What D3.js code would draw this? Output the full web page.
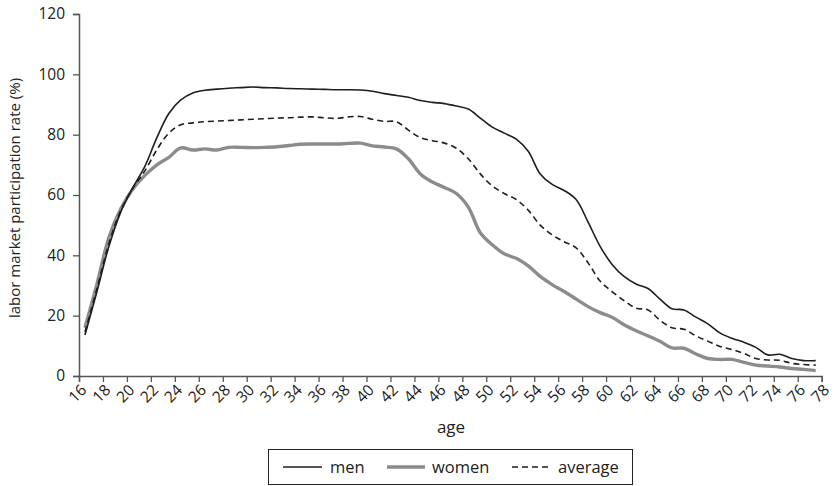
<!DOCTYPE html>
<html>
<head>
<meta charset="utf-8">
<script src="https://cdn.jsdelivr.net/npm/d3@7"></script>
<style>
  html, body { margin: 0; padding: 0; background: #fff; }
  svg { display: block; font-family: "Open Sans", "Noto Sans", sans-serif; }
</style>
</head>
<body>
<svg id="chart" width="836" height="486"></svg>
<script>
// Labor market participation rate by single year of age
const ages = d3.range(16, 78); // 16 .. 77

const men = [
  13.6, 28, 43, 54.5, 62.5, 69.5, 79, 87, 91.5, 93.8,
  94.7, 95.1, 95.4, 95.6, 95.8, 95.6, 95.5, 95.3, 95.2, 95.1,
  95.0, 94.9, 94.9, 94.8, 94.4, 93.6, 93.0, 92.4, 91.3, 90.7,
  90.3, 89.5, 88.5, 85.5, 82.5, 80.5, 78.5, 74.5, 67, 63.5,
  61.5, 58.5, 51, 43, 37, 33, 30.5, 29, 25.5, 22.3,
  21.9, 19.5, 17.3, 14.3, 12.5, 11.2, 9.5, 7, 7.2, 5.8,
  5.1, 5.1
];

const women = [
  16, 30.5, 46, 55.5, 62, 66.5, 70, 72.5, 75.6, 74.9,
  75.3, 74.9, 75.8, 75.8, 75.7, 75.8, 76, 76.4, 76.8, 76.9,
  76.9, 76.9, 77.1, 77.2, 76.3, 75.9, 75.3, 72, 67, 64.3,
  62.5, 60.5, 56, 47.5, 43.5, 40.5, 39, 36.5, 33, 30.3,
  28, 25.5, 23, 21, 19.5, 17, 15, 13.3, 11.5, 9.3,
  9.2, 7.3, 5.8, 5.5, 5.5, 4.5, 3.6, 3.3, 3, 2.5,
  2.2, 1.8
];

const average = [
  14.6, 29, 44, 55, 62.3, 68, 75, 80.5, 83.3, 83.9,
  84.3, 84.5, 84.7, 84.9, 85.1, 85.3, 85.5, 85.6, 85.8, 85.9,
  85.6, 85.4, 85.9, 86, 85.1, 84.4, 84.3, 81.5, 79, 78,
  77.2, 75.5, 72, 67, 63, 60.5, 58.5, 55, 50, 46.8,
  44.5, 42.5, 37.5, 31.5, 28, 25, 22.5, 21.9, 18.5, 16,
  15.5, 13.3, 11.5, 9.8, 8.8, 7.5, 5.8, 5.3, 5.2, 4.2,
  3.8, 3.6
];

const xTicks = d3.range(16, 80, 2);       // 16, 18, ... 78
const yTicks = [0, 20, 40, 60, 80, 100, 120];

const seriesNames = ["men", "women", "average"];
const seriesValues = [men, women, average];
const seriesStyle = {
  men:     { stroke: "#1e1e1e", width: 1.6, dash: null },
  women:   { stroke: "#8c8c8c", width: 3.4, dash: null },
  average: { stroke: "#1e1e1e", width: 1.6, dash: "6,4" }
};

const svg = d3.select("#chart");

const x = d3.scaleLinear().domain([16, 78]).range([79, 821.7]);
const y = d3.scaleLinear().domain([0, 120]).range([376, 14]);

// axes
const axisColor = "#555";

const yAxis = svg.append("g")
  .attr("transform", `translate(${x(16)},0)`)
  .call(d3.axisLeft(y).tickValues(yTicks).tickSize(6).tickPadding(8));
yAxis.select(".domain").attr("stroke", axisColor).attr("stroke-width", 1.5);
yAxis.selectAll(".tick line").attr("stroke", axisColor).attr("stroke-width", 1.3);
yAxis.selectAll(".tick text")
  .attr("fill", "#222").attr("font-size", 15.5).attr("font-family", "'Open Sans', sans-serif");

const xAxis = svg.append("g")
  .attr("transform", `translate(0,${y(0)})`)
  .call(d3.axisBottom(x).tickValues(xTicks).tickSize(6).tickFormat(d3.format("d")));
xAxis.select(".domain").attr("stroke", axisColor).attr("stroke-width", 1.5);
xAxis.selectAll(".tick line").attr("stroke", axisColor).attr("stroke-width", 1.3);
xAxis.selectAll(".tick text")
  .attr("fill", "#222").attr("font-size", 15.5).attr("font-family", "'Open Sans', sans-serif")
  .attr("text-anchor", "end")
  .attr("dy", null)
  .attr("y", null)
  .attr("transform", "translate(8,15) rotate(-45)");

// lines: each yearly value sits in the middle of its year
const line = d3.line()
  .x((d, i) => x(ages[i] + 0.5))
  .y(d => y(d))
  .curve(d3.curveCatmullRom.alpha(0.5));

const order = ["women", "average", "men"];
order.forEach(name => {
  const vals = seriesValues[seriesNames.indexOf(name)];
  const st = seriesStyle[name];
  svg.append("path")
    .datum(vals)
    .attr("fill", "none")
    .attr("stroke", st.stroke)
    .attr("stroke-width", st.width)
    .attr("stroke-dasharray", st.dash)
    .attr("stroke-linejoin", "round")
    .attr("d", line);
});

// axis titles
svg.append("text")
  .attr("transform", "translate(20,198) rotate(-90)")
  .attr("text-anchor", "middle")
  .attr("font-size", 15)
  .attr("fill", "#222")
  .text("labor market participation rate (%)");

svg.append("text")
  .attr("x", 451).attr("y", 433)
  .attr("text-anchor", "middle")
  .attr("font-size", 17)
  .attr("fill", "#222")
  .text("age");

// legend
const legend = svg.append("g");
legend.append("rect")
  .attr("x", 268.5).attr("y", 449.5).attr("width", 364).attr("height", 35)
  .attr("fill", "#fff").attr("stroke", "#222").attr("stroke-width", 1);

const legendItems = [
  { name: "men", x0: 283, x1: 322, tx: 330 },
  { name: "women", x0: 387, x1: 425, tx: 432 },
  { name: "average", x0: 512, x1: 548, tx: 558 }
];
legendItems.forEach(it => {
  const st = seriesStyle[it.name];
  legend.append("line")
    .attr("x1", it.x0).attr("x2", it.x1).attr("y1", 467).attr("y2", 467)
    .attr("stroke", st.stroke).attr("stroke-width", st.width)
    .attr("stroke-dasharray", st.dash);
  legend.append("text")
    .attr("x", it.tx).attr("y", 473)
    .attr("font-size", 16.5).attr("fill", "#222")
    .text(it.name);
});
</script>
</body>
</html>
